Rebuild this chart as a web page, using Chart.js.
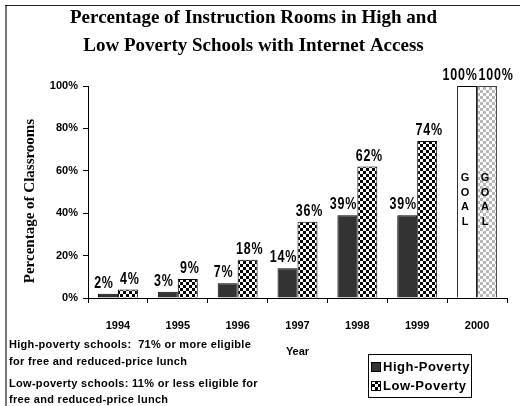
<!DOCTYPE html>
<html><head><meta charset="utf-8">
<script src="https://cdn.jsdelivr.net/npm/chart.js@4.4.1/dist/chart.umd.min.js"></script>
<style>html,body{margin:0;padding:0;background:#fff}#wrap{width:520px;height:406px}</style>
</head><body><div id="wrap"><canvas id="c" width="520" height="406"></canvas></div>
<script>
const years = ['1994','1995','1996','1997','1998','1999','2000'];
const highPoverty = [2, 3, 7, 14, 39, 39, 100];
const lowPoverty = [4, 9, 18, 36, 62, 74, 100];
const yTicks = [0, 20, 40, 60, 80, 100];
const seriesNames = ['High-Poverty', 'Low-Poverty'];
const titleLines = ['Percentage of Instruction Rooms in High and', 'Low Poverty Schools with Internet Access'];
const yTitle = 'Percentage of Classrooms';
const xTitle = 'Year';
const notes = ['High-poverty schools:  71% or more eligible', 'for free and reduced-price lunch', '', 'Low-poverty schools: 11% or less eligible for', 'free and reduced-price lunch'];
const goalLetters = ['G', 'O', 'A', 'L'];

function checker(c1, c2, s) {
  const t = document.createElement('canvas');
  t.width = t.height = 2 * s;
  const g = t.getContext('2d');
  g.fillStyle = c2; g.fillRect(0, 0, 2 * s, 2 * s);
  g.fillStyle = c1; g.fillRect(0, 0, s, s); g.fillRect(s, s, s, s);
  return g.createPattern(t, 'repeat');
}
const darkChecker = checker('#000', '#fff', 3);
const lightChecker = checker('#b8b8b8', '#fff', 3);
const lastIdx = years.length - 1;

const SANS = '"Liberation Sans", Arial, sans-serif';
const SERIF = '"Liberation Serif", "Times New Roman", serif';

function condensedText(ctx, text, x, y, sx) {
  ctx.save();
  ctx.translate(x, y);
  ctx.scale(sx, 1);
  ctx.fillText(text, 0, 0);
  ctx.restore();
}

const decor = {
  id: 'decor',
  beforeDraw(chart) {
    const ctx = chart.ctx;
    ctx.save();
    ctx.fillStyle = '#fff';
    ctx.fillRect(0, 0, chart.width, chart.height);
    ctx.fillStyle = '#777';
    ctx.fillRect(5, 5, 2, chart.height - 5);
    ctx.fillStyle = '#222';
    ctx.fillRect(5, 5, chart.width - 5, 1);
    ctx.restore();
  },
  afterDatasetsDraw(chart) {
    const ctx = chart.ctx;
    ctx.save();
    ctx.fillStyle = '#000';
    ctx.textBaseline = 'alphabetic';
    ctx.textAlign = 'center';
    ctx.font = 'bold 16px ' + SANS;
    if ('letterSpacing' in ctx) ctx.letterSpacing = '1px';
    const m0 = chart.getDatasetMeta(0), m1 = chart.getDatasetMeta(1);
    m0.data.forEach((b, i) => {
      const dx = i === lastIdx ? -7 : -4;
      condensedText(ctx, highPoverty[i] + '%', b.x + dx, b.y - 6, 0.78);
    });
    m1.data.forEach((b, i) => {
      const dx = i === lastIdx ? 9 : 2;
      condensedText(ctx, lowPoverty[i] + '%', b.x + dx, b.y - 6, 0.78);
    });
    if ('letterSpacing' in ctx) ctx.letterSpacing = '0px';
    // GOAL letters in the 2000 bars
    ctx.font = 'bold 11px ' + SANS;
    ctx.textBaseline = 'middle';
    [m0.data[lastIdx], m1.data[lastIdx]].forEach(b => {
      goalLetters.forEach((L, k) => {
        ctx.fillText(L, b.x - 2, b.y + 92 + k * 14.5);
      });
    });
    ctx.restore();
  },
  afterDraw(chart) {
    const ctx = chart.ctx;
    ctx.save();
    // y axis title
    ctx.fillStyle = '#000';
    ctx.font = 'bold 15px ' + SERIF;
    ctx.textAlign = 'center';
    ctx.textBaseline = 'middle';
    ctx.translate(30, 201);
    ctx.rotate(-Math.PI / 2);
    ctx.fillText(yTitle, 0, 0);
    ctx.restore();

    ctx.save();
    ctx.fillStyle = '#000';
    ctx.textAlign = 'left';
    ctx.textBaseline = 'middle';
    ctx.font = 'bold 11px ' + SANS;
    if ('letterSpacing' in ctx) ctx.letterSpacing = '0.3px';
    const noteY = [345, 362, 0, 384, 400];
    notes.forEach((t, i) => { if (t) ctx.fillText(t, 9, noteY[i]); });
    if ('letterSpacing' in ctx) ctx.letterSpacing = '0.5px';
    // legend
    ctx.strokeStyle = '#000';
    ctx.lineWidth = 1;
    ctx.strokeRect(368.5, 354.5, 103, 43);
    const sw = ['#333', darkChecker];
    const ly = [367, 386];
    ctx.font = 'bold 13px ' + SANS;
    seriesNames.forEach((n, i) => {
      ctx.fillStyle = sw[i];
      ctx.fillRect(371, ly[i] - 5, 10, 10);
      ctx.strokeRect(371.5, ly[i] - 4.5, 9, 9);
      ctx.fillStyle = '#000';
      ctx.fillText(n, 383, ly[i]);
    });
    ctx.restore();
  }
};

new Chart(document.getElementById('c'), {
  type: 'bar',
  data: {
    labels: years,
    datasets: [
      {
        label: seriesNames[0],
        data: highPoverty,
        backgroundColor: highPoverty.map((v, i) => i === lastIdx ? '#fff' : '#333'),
        borderColor: '#000',
        borderWidth: 1,
        categoryPercentage: 0.667,
        barPercentage: 1
      },
      {
        label: seriesNames[1],
        data: lowPoverty,
        backgroundColor: lowPoverty.map((v, i) => i === lastIdx ? lightChecker : darkChecker),
        borderColor: lowPoverty.map((v, i) => i === lastIdx ? '#444' : '#000'),
        borderWidth: 1,
        categoryPercentage: 0.667,
        barPercentage: 1
      }
    ]
  },
  options: {
    responsive: false,
    animation: false,
    devicePixelRatio: 1,
    layout: { padding: { left: 0, right: 13, top: 0, bottom: 0 } },
    plugins: {
      legend: { display: false },
      tooltip: { enabled: false },
      title: {
        display: true,
        text: titleLines,
        color: '#000',
        font: { family: SERIF, weight: 'bold', size: 19, lineHeight: 28 / 19 },
        padding: { top: 4, bottom: 26 }
      }
    },
    scales: {
      x: {
        grid: { display: true, drawOnChartArea: false, drawTicks: true, tickLength: 5, offset: true, color: '#000', lineWidth: 1 },
        border: { display: true, color: '#000', width: 1 },
        ticks: { color: '#000', font: { family: SANS, weight: 'bold', size: 11 }, padding: 16, maxRotation: 0 },
        title: { display: true, text: xTitle, color: '#000', font: { family: SANS, weight: 'bold', size: 11 }, padding: { top: 0, bottom: 47 } },
        afterFit: s => { s.height = 108; }
      },
      y: {
        min: 0, max: 100,
        afterBuildTicks: s => { s.ticks = yTicks.map(v => ({ value: v })); },
        ticks: { color: '#000', font: { family: SANS, weight: 'bold', size: 11 }, padding: 5, callback: v => v + '%' },
        grid: { display: true, drawOnChartArea: false, drawTicks: true, tickLength: 5, color: '#000', lineWidth: 1 },
        border: { display: true, color: '#000', width: 1 },
        title: { display: false },
        afterFit: s => { s.width = 88; }
      }
    }
  },
  plugins: [decor]
});
</script>
</body></html>
